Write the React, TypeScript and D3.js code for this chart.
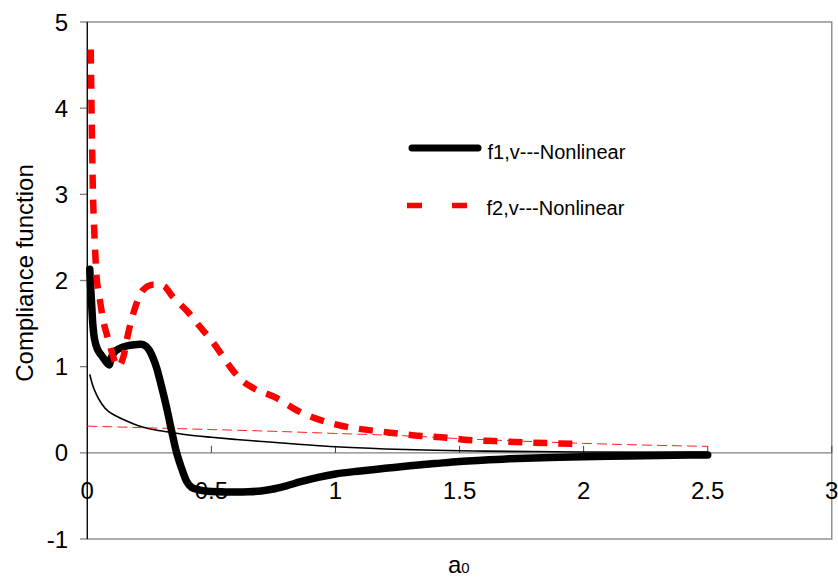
import React from "react";
import * as d3 from "d3";

// a0 values and compliance values
const f1X = [0.01, 0.013, 0.017, 0.022, 0.027, 0.034, 0.045, 0.06, 0.075, 0.088, 0.096, 0.11, 0.13, 0.16, 0.19, 0.215, 0.235, 0.25, 0.265, 0.28, 0.293, 0.32, 0.34, 0.36, 0.38, 0.4, 0.42, 0.45, 0.5, 0.55, 0.6, 0.65, 0.7, 0.75, 0.8, 0.86, 0.93, 1.0, 1.1, 1.2, 1.3, 1.4, 1.5, 1.7, 1.9, 2.1, 2.3, 2.5];
const f1Y = [2.13, 1.95, 1.75, 1.5, 1.36, 1.26, 1.18, 1.12, 1.06, 1.02, 1.1, 1.17, 1.21, 1.24, 1.255, 1.26, 1.24, 1.19, 1.1, 0.98, 0.84, 0.52, 0.25, 0.0, -0.18, -0.33, -0.4, -0.43, -0.45, -0.455, -0.455, -0.452, -0.442, -0.42, -0.385, -0.335, -0.285, -0.245, -0.21, -0.18, -0.15, -0.125, -0.1, -0.07, -0.05, -0.04, -0.03, -0.025];

const f2X = [0.014, 0.016, 0.018, 0.02, 0.022, 0.025, 0.03, 0.036, 0.051, 0.064, 0.085, 0.105, 0.125, 0.145, 0.165, 0.19, 0.225, 0.265, 0.305, 0.345, 0.41, 0.455, 0.51, 0.575, 0.615, 0.67, 0.76, 0.84, 0.92, 1.0, 1.09, 1.19, 1.31, 1.45, 1.51, 1.64, 1.78, 1.96];
const f2Y = [4.68, 4.2, 3.8, 3.45, 3.1, 2.8, 2.45, 2.1, 1.77, 1.54, 1.31, 1.11, 1.0, 1.11, 1.39, 1.66, 1.89, 1.95, 1.94, 1.81, 1.62, 1.46, 1.27, 1.0, 0.86, 0.75, 0.64, 0.5, 0.4, 0.33, 0.28, 0.245, 0.205, 0.175, 0.155, 0.136, 0.12, 0.105];

const f1LinX = [0.01, 0.02, 0.038, 0.06, 0.085, 0.105, 0.15, 0.2, 0.25, 0.32, 0.4, 0.5, 0.6, 0.72, 0.85, 1.0, 1.2, 1.4, 1.6, 2.0, 2.5];
const f1LinY = [0.91, 0.8, 0.67, 0.56, 0.48, 0.445, 0.38, 0.32, 0.28, 0.245, 0.21, 0.18, 0.155, 0.128, 0.1, 0.07, 0.045, 0.03, 0.02, 0.01, 0.005];

const f2LinX = [0.0, 0.25, 0.5, 0.75, 1.0, 1.3, 1.5, 1.75, 2.0, 2.25, 2.5];
const f2LinY = [0.31, 0.29, 0.27, 0.25, 0.225, 0.195, 0.165, 0.135, 0.11, 0.09, 0.075];

const xTicks = [0, 0.5, 1, 1.5, 2, 2.5, 3];
const xTickLabels = ["0", "0.5", "1", "1.5", "2", "2.5", "3"];
const yTicks = [-1, 0, 1, 2, 3, 4, 5];
const yTickLabels = ["-1", "0", "1", "2", "3", "4", "5"];
const legendLabels = ["f1,v---Nonlinear", "f2,v---Nonlinear"];
const yTitle = "Compliance function";

const W = 838;
const H = 578;
const FONT = "'Liberation Sans', Arial, Helvetica, sans-serif";

export default function App() {
  const x = d3.scaleLinear().domain([0, 3]).range([87.3, 831.8]);
  const y = d3.scaleLinear().domain([-1, 5]).range([539, 22]);
  const line = d3
    .line<[number, number]>()
    .x((d) => x(d[0]))
    .y((d) => y(d[1]))
    .curve(d3.curveMonotoneX);
  const zip = (a: number[], b: number[]) => a.map((v, i) => [v, b[i]] as [number, number]);

  const x0 = x(0);
  const x3 = x(3);
  const yTop = y(5);
  const yBot = y(-1);
  const yZero = y(0);

  return (
    <svg width={W} height={H} style={{ position: "absolute", left: 0, top: 0, background: "#fff" }}>
      {/* plot border */}
      <rect x={x0} y={yTop} width={x3 - x0} height={yBot - yTop} fill="none" stroke="#808080" strokeWidth={1.3} />
      {/* zero line (x axis) */}
      <line x1={x0} x2={x3} y1={yZero} y2={yZero} stroke="#808080" strokeWidth={1.3} />
      {xTicks.filter((t) => t > 0).map((t) => (
        <line key={"xt" + t} x1={x(t)} x2={x(t)} y1={yZero - 7} y2={yZero} stroke="#404040" strokeWidth={1} />
      ))}
      {/* y ticks */}
      {yTicks.map((t) => (
        <line key={"yt" + t} x1={80} x2={x0} y1={y(t)} y2={y(t)} stroke="#808080" strokeWidth={1.3} />
      ))}
      {/* y axis */}
      <line x1={x0} x2={x0} y1={yTop} y2={yBot} stroke="#000" strokeWidth={1.2} />

      {/* tick labels */}
      {yTicks.map((t, i) => (
        <text key={"yl" + t} x={68} y={y(t) + 8.5} textAnchor="end" fontFamily={FONT} fontSize={24} fill="#000">
          {yTickLabels[i]}
        </text>
      ))}
      {xTicks.map((t, i) => (
        <text key={"xl" + t} x={x(t)} y={499} textAnchor="middle" fontFamily={FONT} fontSize={24} fill="#000">
          {xTickLabels[i]}
        </text>
      ))}

      {/* axis titles */}
      <text transform="translate(32.5,273) rotate(-90)" textAnchor="middle" fontFamily={FONT} fontSize={24} fill="#000">
        {yTitle}
      </text>
      <text x={448} y={573} fontFamily={FONT} fontSize={24} fill="#000">
        a<tspan fontSize={15}>0</tspan>
      </text>

      {/* series */}
      <path d={line(zip(f1LinX, f1LinY)) || ""} fill="none" stroke="#000" strokeWidth={1.6} />
      <path d={line(zip(f2LinX, f2LinY)) || ""} fill="none" stroke="#ff2020" strokeWidth={1} strokeDasharray="10 5" />
      <path d={line(zip(f1X, f1Y)) || ""} fill="none" stroke="#000" strokeWidth={7.5} strokeLinecap="round" strokeLinejoin="round" />
      <path d={line(zip(f2X, f2Y)) || ""} fill="none" stroke="#ff0000" strokeWidth={6.5} strokeDasharray="14 11" />

      {/* legend */}
      <line x1={412} x2={478} y1={148} y2={148} stroke="#000" strokeWidth={7} strokeLinecap="round" />
      <text x={487.5} y={159} fontFamily={FONT} fontSize={20} fill="#000">
        {legendLabels[0]}
      </text>
      <line x1={407} x2={482} y1={205.5} y2={205.5} stroke="#ff0000" strokeWidth={5.5} strokeDasharray="15 30" />
      <text x={486.5} y={215} fontFamily={FONT} fontSize={20} fill="#000">
        {legendLabels[1]}
      </text>
    </svg>
  );
}
